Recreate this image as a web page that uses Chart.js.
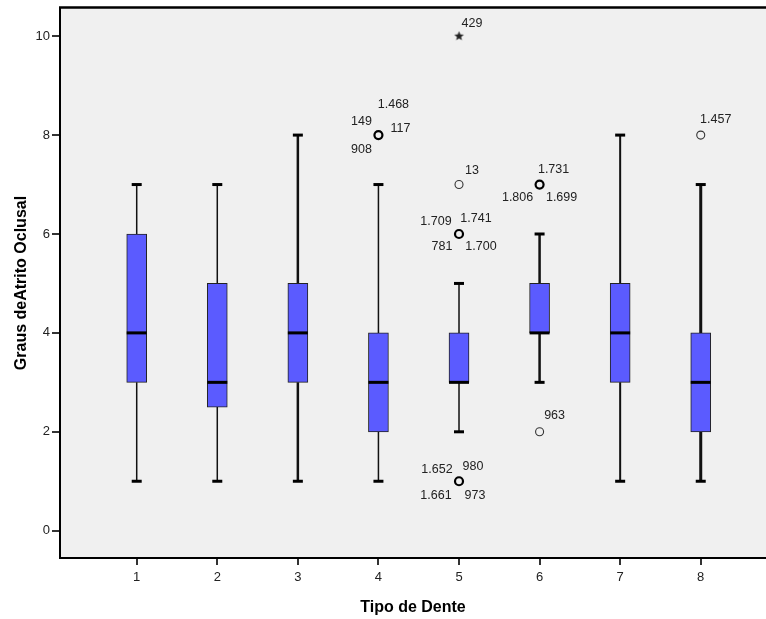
<!DOCTYPE html>
<html><head><meta charset="utf-8">
<script src="https://cdn.jsdelivr.net/npm/chart.js@4/dist/chart.umd.min.js"></script>
<style>html,body{margin:0;padding:0;background:#fff;}#wrap{width:766px;height:619px;}</style>
</head><body><div id="wrap"><canvas id="c" width="766" height="619"></canvas></div>
<script>
// ---- data ----
const categories = [1, 2, 3, 4, 5, 6, 7, 8];
const whiskerMin = [1, 1, 1, 1, 2, 3, 1, 1];
const q1 = [3, 2.5, 3, 2, 3, 4, 3, 2];
const medians = [4, 3, 4, 3, 3, 4, 4, 3];
const q3 = [6, 5, 5, 4, 4, 5, 5, 4];
const whiskerMax = [7, 7, 8, 7, 5, 6, 8, 7];
const outlierCategory = [4, 5, 5, 5, 6, 6, 8];
const outlierValue = [8, 7, 6, 1, 7, 2, 8];
const outlierCases = [['1.468', '149', '117', '908'], ['13'], ['1.709', '1.741', '781', '1.700'], ['1.652', '980', '1.661', '973'], ['1.731', '1.806', '1.699'], ['963'], ['1.457']];
const extremeCategory = [5];
const extremeValue = [10];
const extremeCases = [['429']];
const yTicks = [0, 2, 4, 6, 8, 10];
const xTicks = [1, 2, 3, 4, 5, 6, 7, 8];

// ---- styles ----
const FONT = "'Liberation Sans', Arial, sans-serif";
const outlierBold = [true, false, true, true, true, false, false];
const outlierLabelOffsets = [
  [[15, -31], [-17, -14], [22, -7], [-17, 14]],
  [[13, -14]],
  [[-23, -12], [17, -15], [-17, 13], [22, 13]],
  [[-22, -12], [14, -15], [-23, 14], [16, 14]],
  [[14, -15], [-22, 13], [22, 13]],
  [[15, -16]],
  [[15, -16]]
];
const extremeLabelOffsets = [[[13, -13]]];
const whiskerWidths = [1.5, 1.5, 2.5, 1.5, 1.5, 2.5, 2, 3];

// star marker
const star = document.createElement('canvas');
star.width = 11; star.height = 11;
(function () {
  const g = star.getContext('2d');
  g.fillStyle = '#222';
  g.beginPath();
  for (let i = 0; i < 10; i++) {
    const r = i % 2 === 0 ? 5 : 2.2;
    const a = -Math.PI / 2 + i * Math.PI / 5;
    const px = 5.5 + r * Math.cos(a), py = 5.5 + r * Math.sin(a);
    if (i === 0) g.moveTo(px, py); else g.lineTo(px, py);
  }
  g.closePath();
  g.fill();
})();

const datasets = [];
datasets.push({
  type: 'scatter', label: 'median', order: 0,
  data: categories.map((c, i) => ({ x: c, y: medians[i] })),
  pointStyle: 'line', pointRadius: 10, pointBorderWidth: 3,
  borderColor: '#000', backgroundColor: '#000', pointHoverRadius: 10
});
datasets.push({
  type: 'scatter', label: 'outliers', order: 1,
  data: outlierCategory.map((c, i) => ({ x: c, y: outlierValue[i] })),
  pointStyle: 'circle', pointRadius: 4, pointHoverRadius: 4,
  backgroundColor: 'rgba(0,0,0,0)',
  borderColor: ctx => outlierBold[ctx.dataIndex] ? '#000' : '#333',
  borderWidth: ctx => outlierBold[ctx.dataIndex] ? 2.2 : 1.1
});
datasets.push({
  type: 'scatter', label: 'extremes', order: 1,
  data: extremeCategory.map((c, i) => ({ x: c, y: extremeValue[i] })),
  pointStyle: star, pointRadius: 5
});
datasets.push({
  type: 'bar', label: 'boxes', order: 2,
  data: categories.map((c, i) => ({ x: c, y: [q1[i], q3[i]] })),
  backgroundColor: '#5b5bff', borderColor: '#222', borderWidth: 1,
  borderSkipped: false, barThickness: 20
});
categories.forEach((c, i) => {
  datasets.push({
    type: 'line', label: 'whisker' + c, order: 3,
    data: [{ x: c, y: whiskerMin[i] }, { x: c, y: q1[i] }, { x: c, y: null }, { x: c, y: q3[i] }, { x: c, y: whiskerMax[i] }],
    borderColor: '#111', borderWidth: whiskerWidths[i], spanGaps: false,
    pointStyle: 'line', pointBorderColor: '#000', pointBorderWidth: 3,
    pointRadius: ctx => (ctx.dataIndex === 0 || ctx.dataIndex === 4) ? 5 : 0,
    pointHoverRadius: ctx => (ctx.dataIndex === 0 || ctx.dataIndex === 4) ? 5 : 0,
    fill: false
  });
});

const bgPlugin = {
  id: 'bg',
  beforeDraw(chart) {
    const { ctx, chartArea: a } = chart;
    ctx.save();
    ctx.fillStyle = '#f0f0f0';
    ctx.fillRect(a.left, a.top, a.right - a.left, a.bottom - a.top);
    ctx.restore();
  },
  afterDraw(chart) {
    const { ctx, chartArea: a } = chart;
    ctx.save();
    ctx.strokeStyle = '#000';
    ctx.lineWidth = 2.5;
    ctx.beginPath();
    ctx.moveTo(a.left - 1, a.top - 0.5);
    ctx.lineTo(a.right, a.top - 0.5);
    ctx.stroke();
    ctx.restore();
  }
};

const labelPlugin = {
  id: 'caseLabels',
  afterDatasetsDraw(chart) {
    const ctx = chart.ctx;
    ctx.save();
    ctx.font = '12.5px ' + FONT;
    ctx.fillStyle = '#222';
    ctx.textAlign = 'center';
    ctx.textBaseline = 'middle';
    const draw = (dsIndex, cases, offsets) => {
      const meta = chart.getDatasetMeta(dsIndex);
      meta.data.forEach((el, i) => {
        cases[i].forEach((t, k) => {
          const o = offsets[i][k];
          ctx.fillText(t, el.x + o[0], el.y + o[1]);
        });
      });
    };
    draw(1, outlierCases, outlierLabelOffsets);
    draw(2, extremeCases, extremeLabelOffsets);
    ctx.restore();
  }
};

new Chart(document.getElementById('c'), {
  type: 'bar',
  data: { datasets },
  plugins: [bgPlugin, labelPlugin],
  options: {
    responsive: false,
    animation: false,
    devicePixelRatio: 1,
    layout: { autoPadding: false, padding: { top: 8, right: 0, bottom: 0, left: 0 } },
    plugins: { legend: { display: false }, tooltip: { enabled: false } },
    events: [],
    scales: {
      x: {
        type: 'linear', min: 0.048, max: 8.81, offset: false,
        afterBuildTicks: s => { s.ticks = xTicks.map(v => ({ value: v })); },
        afterFit: s => { s.height = 61; s.paddingLeft = 0; s.paddingRight = 0; },
        ticks: { font: { family: FONT, size: 13 }, color: '#222', padding: 5, callback: v => String(v), autoSkip: false, maxRotation: 0 },
        grid: { offset: false, drawOnChartArea: false, drawTicks: true, tickLength: 7, color: '#333', lineWidth: 2 },
        border: { display: true, color: '#000', width: 2 },
        title: { display: true, text: 'Tipo de Dente', color: '#000', font: { family: FONT, size: 16, weight: 'bold' }, padding: { top: 0, bottom: 2 } }
      },
      y: {
        type: 'linear', min: -0.552, max: 10.57,
        afterBuildTicks: s => { s.ticks = yTicks.map(v => ({ value: v })); },
        afterFit: s => { s.width = 60; s.paddingTop = 0; s.paddingBottom = 0; },
        ticks: { font: { family: FONT, size: 13 }, color: '#222', padding: 2, callback: v => String(v) },
        grid: { drawOnChartArea: false, drawTicks: true, tickLength: 8, color: '#333', lineWidth: 2 },
        border: { display: true, color: '#000', width: 2 },
        title: { display: true, text: 'Graus deAtrito Oclusal', color: '#000', font: { family: FONT, size: 16, weight: 'bold' }, padding: { top: 12, bottom: 0 } }
      }
    }
  }
});
</script>
</body></html>
